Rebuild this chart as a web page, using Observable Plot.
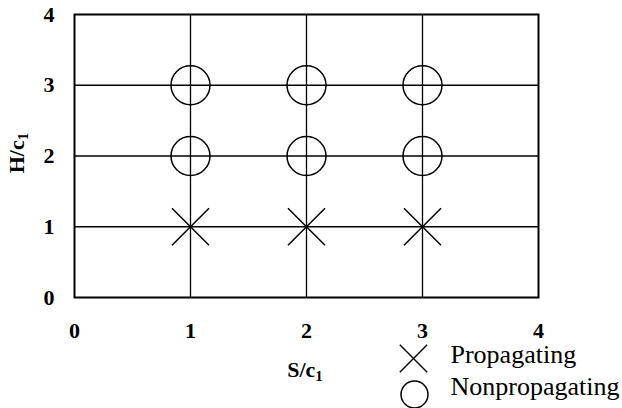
<!DOCTYPE html>
<html>
<head>
<meta charset="utf-8">
<script src="https://cdn.jsdelivr.net/npm/d3@7"></script>
<script src="https://cdn.jsdelivr.net/npm/@observablehq/plot@0.6"></script>
<style>
  html, body { margin: 0; padding: 0; background: #fff; }
  #chart svg { display: block; }
</style>
</head>
<body>
<div id="chart"></div>
<script>
// Crack growth test outcomes on an S/c1 – H/c1 grid
const sValues = [1, 2, 3, 1, 2, 3, 1, 2, 3];
const hValues = [1, 1, 1, 2, 2, 2, 3, 3, 3];
const outcomes = [
  "Propagating", "Propagating", "Propagating",
  "Nonpropagating", "Nonpropagating", "Nonpropagating",
  "Nonpropagating", "Nonpropagating", "Nonpropagating"
];
const xTicks = [0, 1, 2, 3, 4];
const yTicks = [0, 1, 2, 3, 4];
const gridLines = [1, 2, 3];
const legendLabels = ["Propagating", "Nonpropagating"];

const points = sValues.map((s, i) => ({S: s, H: hValues[i], outcome: outcomes[i]}));
const serif = "'Liberation Serif', 'Times New Roman', Times, serif";

const chart = Plot.plot({
  width: 622,
  height: 408,
  marginLeft: 74,
  marginRight: 84,
  marginTop: 14,
  marginBottom: 111,
  style: {fontFamily: serif, color: "#000", background: "#fff", overflow: "visible"},
  x: {domain: [0, 4]},
  y: {domain: [0, 4]},
  marks: [
    Plot.ruleX(gridLines, {stroke: "#000", strokeWidth: 1.3}),
    Plot.ruleY(gridLines, {stroke: "#000", strokeWidth: 1.3}),
    Plot.frame({stroke: "#000", strokeWidth: 2}),
    Plot.axisX(xTicks, {tickSize: 0, tickPadding: 25, tickFormat: "d", fontSize: 22, fontWeight: "bold", label: null}),
    Plot.axisY(yTicks, {tickSize: 0, tickPadding: 20, tickFormat: "d", fontSize: 22, fontWeight: "bold", label: null}),
    Plot.dot(points.filter(d => d.outcome === "Nonpropagating"), {
      x: "S", y: "H", r: 19.5, symbol: "circle", stroke: "#000", strokeWidth: 1.5, fill: "none"
    }),
    Plot.dot(points.filter(d => d.outcome === "Propagating"), {
      x: "S", y: "H", r: 16.9, symbol: "times", stroke: "#000", strokeWidth: 1.5
    }),
    // legend
    Plot.dot([legendLabels[0]], {frameAnchor: "bottom-right", dx: -125, dy: 61, r: 12.5, symbol: "times", stroke: "#000", strokeWidth: 1.4}),
    Plot.dot([legendLabels[1]], {frameAnchor: "bottom-right", dx: -124, dy: 97, r: 13.5, symbol: "circle", stroke: "#000", strokeWidth: 1.5, fill: "none"}),
    Plot.text([legendLabels[0]], {frameAnchor: "bottom-right", text: d => d, dx: -88, dy: 65, textAnchor: "start", fontSize: 26, fill: "#000"}),
    Plot.text([legendLabels[1]], {frameAnchor: "bottom-right", text: d => d, dx: -88, dy: 97, textAnchor: "start", fontSize: 26, fill: "#000"})
  ]
});

document.getElementById("chart").appendChild(chart);

// Axis titles with subscripts
const svg = d3.select(chart);
function addTitle(base, sub, transform) {
  const t = svg.append("text")
    .attr("transform", transform)
    .attr("text-anchor", "middle")
    .attr("font-family", serif)
    .attr("font-weight", "bold")
    .attr("font-size", 22)
    .attr("fill", "#000");
  t.append("tspan").text(base);
  t.append("tspan").attr("font-size", 15).attr("dy", 4).text(sub);
}
addTitle("S/c", "1", "translate(305,377)");
addTitle("H/c", "1", "translate(24,153) rotate(-90)");
</script>
</body>
</html>
